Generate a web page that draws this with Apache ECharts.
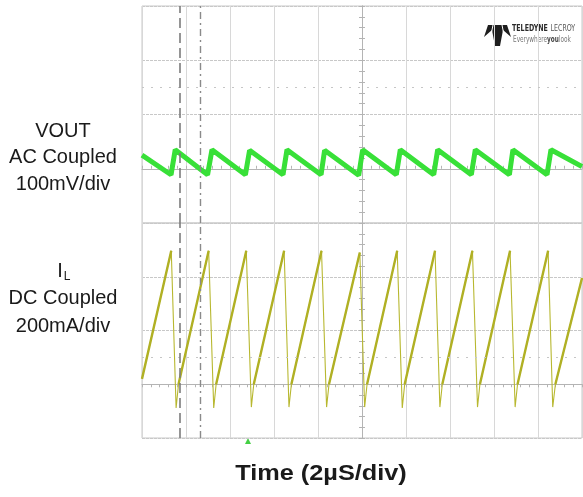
<!DOCTYPE html>
<html>
<head>
<meta charset="utf-8">
<script src="https://cdn.jsdelivr.net/npm/echarts@6/dist/echarts.min.js"></script>
<style>
  html, body { margin: 0; padding: 0; background: #fff; }
  #scope { width: 583px; height: 497px; }
</style>
</head>
<body>
<div id="scope"></div>
<script>
// time in µs, 2 µs/div, 10 divisions across the screen
const timeRange = [0, 20];

// VOUT, AC coupled, mV (100 mV/div)
const voutRange = [-100, 300];
const voutTroughT = [1.32, 2.98, 4.70, 6.41, 8.14, 9.85, 11.56, 13.26, 14.97, 16.70, 18.41];
const voutTroughMv = [-11, -11, -11, -11, -11, -12, -11, -11, -11, -11, -11];
const voutPeakT = [1.51, 3.18, 4.89, 6.59, 8.30, 10.03, 11.74, 13.44, 15.15, 16.86, 18.59];
const voutPeakMv = [35, 35, 34, 35, 34, 35, 35, 35, 35, 35, 35];
const voutEdgeT = [0, 20];
const voutEdgeMv = [25, 4];

// IL, DC coupled, mA (200 mA/div)
const ilRange = [-200, 600];
const ilPeakT = [1.33, 3.03, 4.74, 6.46, 8.16, 9.90, 11.60, 13.32, 15.02, 16.73, 18.46];
const ilPeakMa = [497, 497, 497, 497, 497, 490, 497, 497, 497, 497, 497];
const ilValleyT = [1.55, 3.26, 4.97, 6.68, 8.39, 10.12, 11.83, 13.54, 15.25, 16.96, 18.67];
const ilValleyMa = [-88, -88, -85, -85, -85, -85, -88, -85, -85, -85, -85];
const ilRiseT = [0, 1.66, 3.37, 5.08, 6.79, 8.50, 10.23, 11.94, 13.65, 15.36, 17.07, 18.79];
const ilRiseMa = [20, 0, 0, 0, 0, 0, 0, 0, 0, 0, 0, 0];
const ilEndT = 20;
const ilEndMa = 395;

// cursors and half-division markers
const cursorT = [1.70, 2.64];
const voutHalfMv = 150;
const ilHalfMa = 100;

const voutData = [[voutEdgeT[0], voutEdgeMv[0]]];
voutTroughT.forEach((t, i) => {
  voutData.push([t, voutTroughMv[i]]);
  voutData.push([voutPeakT[i], voutPeakMv[i]]);
});
voutData.push([voutEdgeT[1], voutEdgeMv[1]]);

const ilData = [];
const ilRamps = [];
ilRiseT.forEach((t, i) => {
  ilData.push([t, ilRiseMa[i]]);
  ilRamps.push([t, ilRiseMa[i]]);
  if (i < ilPeakT.length) {
    ilData.push([ilPeakT[i], ilPeakMa[i]]);
    ilRamps.push([ilPeakT[i], ilPeakMa[i]]);
    ilRamps.push([ilPeakT[i], '-']);
    ilData.push([ilValleyT[i], ilValleyMa[i]]);
  }
});
ilData.push([ilEndT, ilEndMa]);
ilRamps.push([ilEndT, ilEndMa]);

const gridColor = '#d8d8d8';
const axisColor = '#b4b4b4';

function timeAxis (gridIndex, position) {
  return {
    type: 'value',
    gridIndex: gridIndex,
    position: position,
    min: timeRange[0],
    max: timeRange[1],
    interval: 2,
    axisLine: { show: true, lineStyle: { color: axisColor, width: 1 } },
    axisTick: { show: true, inside: true, length: 3, lineStyle: { color: axisColor } },
    minorTick: { show: true, splitNumber: 5, length: 3, lineStyle: { color: axisColor } },
    axisLabel: { show: false },
    splitLine: { show: true, lineStyle: { color: gridColor, width: 1 } }
  };
}

function levelAxis (gridIndex, range) {
  return {
    type: 'value',
    gridIndex: gridIndex,
    min: range[0],
    max: range[1],
    interval: (range[1] - range[0]) / 4,
    axisLine: { show: false },
    axisTick: { show: false },
    axisLabel: { show: false },
    splitLine: { show: true, lineStyle: { color: '#c8c8c8', width: 1, type: [3, 1] } }
  };
}

// extra axes that draw the tick marks on the centre vertical line
function centreAxis (gridIndex, range, position) {
  return {
    type: 'value',
    gridIndex: gridIndex,
    position: position,
    offset: -220,
    min: range[0],
    max: range[1],
    interval: (range[1] - range[0]) / 4,
    axisLine: { show: true, lineStyle: { color: axisColor, width: 1 } },
    axisTick: { show: true, inside: true, length: 3, lineStyle: { color: axisColor } },
    minorTick: { show: true, splitNumber: 5, length: 3, lineStyle: { color: axisColor } },
    axisLabel: { show: false },
    splitLine: { show: false }
  };
}

function markers (halfLevel) {
  return {
    silent: true,
    symbol: ['none', 'none'],
    label: { show: false },
    animation: false,
    data: [
      { yAxis: halfLevel, lineStyle: { type: [2, 7], color: '#c6c6c6', width: 1 } },
      { xAxis: cursorT[0], lineStyle: { type: [10, 5], color: '#7c7c7c', width: 1.6 } },
      { xAxis: cursorT[1], lineStyle: { type: [7, 4, 2, 4], color: '#8a8a8a', width: 1.4 } }
    ]
  };
}

const labelFont = '20px "Liberation Sans", Arial, sans-serif';
const badgeFont = '"Liberation Sans Narrow", "DejaVu Sans Condensed", "Liberation Sans", sans-serif';

const chart = echarts.init(document.getElementById('scope'), null, { renderer: 'canvas' });
chart.setOption({
  animation: false,
  backgroundColor: '#ffffff',
  grid: [
    { left: 142, top: 6, width: 440, height: 217, show: true, borderColor: '#c8c8c8', borderWidth: 1 },
    { left: 142, top: 223, width: 440, height: 215, show: true, borderColor: '#c8c8c8', borderWidth: 1 }
  ],
  xAxis: [timeAxis(0, 'bottom'), timeAxis(1, 'top')],
  yAxis: [
    levelAxis(0, voutRange),
    levelAxis(1, ilRange),
    centreAxis(0, voutRange, 'left'),
    centreAxis(0, voutRange, 'right'),
    centreAxis(1, ilRange, 'left'),
    centreAxis(1, ilRange, 'right')
  ],
  series: [
    {
      name: 'VOUT',
      type: 'line',
      xAxisIndex: 0,
      yAxisIndex: 0,
      data: voutData,
      showSymbol: false,
      lineStyle: { color: '#38e038', width: 5 },
      markLine: markers(voutHalfMv)
    },
    {
      name: 'IL',
      type: 'line',
      xAxisIndex: 1,
      yAxisIndex: 1,
      data: ilData,
      showSymbol: false,
      lineStyle: { color: '#b8b830', width: 1.1 },
      markLine: markers(ilHalfMa)
    },
    {
      name: 'IL ramp',
      type: 'line',
      xAxisIndex: 1,
      yAxisIndex: 1,
      data: ilRamps,
      showSymbol: false,
      connectNulls: false,
      lineStyle: { color: '#b0b024', width: 2.4 }
    }
  ],
  graphic: [
    { type: 'text', x: 63, y: 131, style: { text: 'VOUT', font: labelFont, fill: '#1a1a1a', align: 'center', verticalAlign: 'middle' } },
    { type: 'text', x: 63, y: 157, style: { text: 'AC Coupled', font: labelFont, fill: '#1a1a1a', align: 'center', verticalAlign: 'middle' } },
    { type: 'text', x: 63, y: 184, style: { text: '100mV/div', font: labelFont, fill: '#1a1a1a', align: 'center', verticalAlign: 'middle' } },
    { type: 'text', x: 60, y: 271, style: { text: 'I', font: labelFont, fill: '#1a1a1a', align: 'center', verticalAlign: 'middle' } },
    { type: 'text', x: 67, y: 277, style: { text: 'L', font: '12px "Liberation Sans", Arial, sans-serif', fill: '#1a1a1a', align: 'center', verticalAlign: 'middle' } },
    { type: 'text', x: 63, y: 298, style: { text: 'DC Coupled', font: labelFont, fill: '#1a1a1a', align: 'center', verticalAlign: 'middle' } },
    { type: 'text', x: 63, y: 326, style: { text: '200mA/div', font: labelFont, fill: '#1a1a1a', align: 'center', verticalAlign: 'middle' } },
    { type: 'text', x: 321, y: 474, scaleX: 1.15, style: { text: 'Time (2µS/div)', font: 'bold 22px "Liberation Sans", Arial, sans-serif', fill: '#1a1a1a', align: 'center', verticalAlign: 'middle' } },
    // trigger marker under the screen
    { type: 'polygon', shape: { points: [[245, 444], [248, 438], [251, 444]] }, style: { fill: '#44d044' } },
    // Teledyne LeCroy badge
    { type: 'polygon', shape: { points: [[484, 37], [488, 25], [507, 25], [511, 37], [503, 30], [500, 46], [495, 46], [492, 30]] }, style: { fill: '#1e1e1e' } },
    { type: 'line', shape: { x1: 493, y1: 25, x2: 491, y2: 35 }, style: { stroke: '#fff', lineWidth: 1 } },
    { type: 'line', shape: { x1: 502, y1: 25, x2: 504, y2: 35 }, style: { stroke: '#fff', lineWidth: 1 } },
    {
      type: 'text', x: 512, y: 29, scaleX: 0.78,
      style: {
        text: '{b|TELEDYNE} {n|LECROY}',
        verticalAlign: 'middle',
        rich: {
          b: { font: 'bold 9px ' + badgeFont, fill: '#2a2a2a' },
          n: { font: '9px ' + badgeFont, fill: '#555' }
        }
      }
    },
    {
      type: 'text', x: 513, y: 40, scaleX: 0.8,
      style: {
        text: '{n|Everywhere}{b|you}{n|look}',
        verticalAlign: 'middle',
        rich: {
          b: { font: 'bold 8px ' + badgeFont, fill: '#444' },
          n: { font: '8px ' + badgeFont, fill: '#777' }
        }
      }
    }
  ]
});
</script>
</body>
</html>
